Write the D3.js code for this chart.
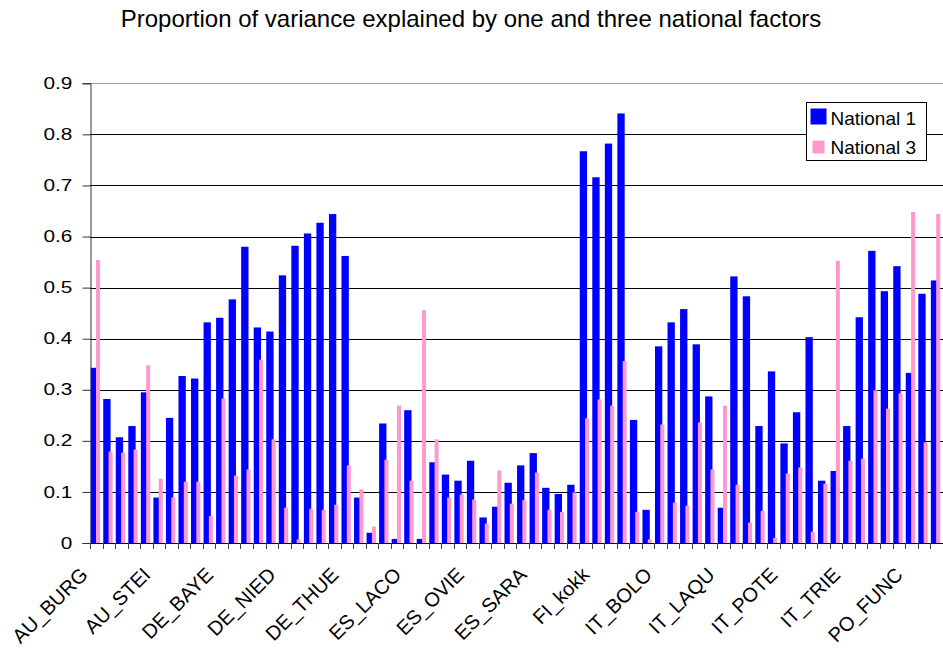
<!DOCTYPE html>
<html>
<head>
<meta charset="utf-8">
<script src="https://cdn.jsdelivr.net/npm/d3@7"></script>
<style>
  body { margin: 0; background: #fff; }
  text { font-family: "Liberation Sans", Arial, sans-serif; fill: #000; }
</style>
</head>
<body>
<svg id="chart" width="943" height="649"></svg>
<script>
const title = "Proportion of variance explained by one and three national factors";
const seriesNames = ["National 1", "National 3"];
// one label every 5th region
const tickLabels = ["AU_BURG", "AU_STEI", "DE_BAYE", "DE_NIED", "DE_THUE", "ES_LACO", "ES_OVIE",
                    "ES_SARA", "FI_kokk", "IT_BOLO", "IT_LAQU", "IT_POTE", "IT_TRIE", "PO_FUNC"];
const national1 = [0.343, 0.282, 0.207, 0.229, 0.295, 0.089, 0.245, 0.327, 0.322, 0.432,
                   0.441, 0.477, 0.580, 0.422, 0.414, 0.524, 0.582, 0.606, 0.627, 0.644,
                   0.562, 0.089, 0.020, 0.234, 0.008, 0.260, 0.008, 0.158, 0.134, 0.122,
                   0.161, 0.050, 0.071, 0.118, 0.152, 0.176, 0.108, 0.096, 0.114, 0.767,
                   0.716, 0.782, 0.841, 0.241, 0.065, 0.385, 0.432, 0.458, 0.389, 0.287,
                   0.069, 0.522, 0.483, 0.229, 0.336, 0.195, 0.256, 0.403, 0.122, 0.141,
                   0.229, 0.442, 0.572, 0.493, 0.542, 0.333, 0.488, 0.514];
const national3 = [0.554, 0.179, 0.177, 0.183, 0.348, 0.126, 0.089, 0.120, 0.120, 0.053,
                   0.283, 0.132, 0.144, 0.359, 0.203, 0.069, 0.007, 0.067, 0.065, 0.075,
                   0.152, 0.105, 0.032, 0.163, 0.269, 0.122, 0.456, 0.203, 0.089, 0.095,
                   0.085, 0.038, 0.142, 0.077, 0.084, 0.138, 0.065, 0.061, 0.099, 0.244,
                   0.281, 0.269, 0.356, 0.061, 0.007, 0.232, 0.079, 0.073, 0.236, 0.144,
                   0.269, 0.114, 0.040, 0.063, 0.010, 0.136, 0.148, 0.022, 0.116, 0.552,
                   0.161, 0.165, 0.299, 0.263, 0.293, 0.648, 0.197, 0.644];
const yTicks = [0, 0.1, 0.2, 0.3, 0.4, 0.5, 0.6, 0.7, 0.8, 0.9];

const svg = d3.select("#chart");
const plotLeft = 90, plotRight = 942.7, plotTop = 83.3, plotBottom = 543;

const x = d3.scaleBand()
    .domain(d3.range(national1.length))
    .range([plotLeft, plotRight])
    .padding(0);
const y = d3.scaleLinear().domain([0, 0.9]).range([plotBottom, plotTop]);
const bw = x.bandwidth();

// title
svg.append("text")
   .attr("x", 471).attr("y", 27)
   .attr("text-anchor", "middle")
   .style("font-size", "24px")
   .text(title);

// gridlines
svg.append("g")
   .selectAll("line")
   .data(yTicks.filter(d => d > 0))
   .join("line")
   .attr("x1", plotLeft).attr("x2", 943)
   .attr("y1", d => Math.round(y(d)) + 0.5)
   .attr("y2", d => Math.round(y(d)) + 0.5)
   .attr("stroke", d => d === 0.9 ? "#a0a0a0" : "#000")
   .attr("stroke-width", 1);

// bars, blue first then pink on top
svg.append("g")
   .selectAll("rect")
   .data(national1)
   .join("rect")
   .attr("x", (d, i) => x(i) + bw * 0.056)
   .attr("width", bw * 0.584)
   .attr("y", d => y(d))
   .attr("height", d => y(0) - y(d))
   .attr("fill", "#0000ff");

svg.append("g")
   .selectAll("rect")
   .data(national3)
   .join("rect")
   .attr("x", (d, i) => x(i) + bw * 0.48)
   .attr("width", bw * 0.32)
   .attr("y", d => y(d))
   .attr("height", d => y(0) - y(d))
   .attr("fill", "#ff99cc");

// y axis
const yAxis = svg.append("g")
   .attr("transform", "translate(" + (plotLeft + 0.5) + ",0)")
   .call(d3.axisLeft(y).tickValues(yTicks).tickSize(8).tickPadding(6)
          .tickFormat(d => d === 0 ? "0" : d3.format(".1f")(d)));
yAxis.select(".domain").attr("stroke", "#333");
yAxis.selectAll(".tick line").attr("stroke", "#333");
yAxis.selectAll("text")
     .style("font-size", "16px")
     .attr("transform", "scale(1.3,1)");

// x axis: ticks at every category boundary
const xTickPos = d3.range(national1.length + 1).map(i => plotLeft + i * bw);
svg.append("line")
   .attr("x1", plotLeft).attr("x2", 943)
   .attr("y1", plotBottom + 0.5).attr("y2", plotBottom + 0.5)
   .attr("stroke", "#000");
svg.append("g")
   .selectAll("line")
   .data(xTickPos)
   .join("line")
   .attr("x1", d => Math.round(d) + 0.5).attr("x2", d => Math.round(d) + 0.5)
   .attr("y1", plotBottom).attr("y2", plotBottom + 6)
   .attr("stroke", "#444");

svg.append("g")
   .selectAll("text")
   .data(tickLabels)
   .join("text")
   .attr("text-anchor", "end")
   .attr("transform", (d, k) => "translate(" + (x(k * 5) - 1) + "," + 576 + ") rotate(-45)")
   .style("font-size", "20px")
   .text(d => d);

// legend
const lg = svg.append("g").attr("transform", "translate(806.5,102.5)");
lg.append("rect")
  .attr("width", 120).attr("height", 58)
  .attr("fill", "#fff").attr("stroke", "#000");
lg.append("rect").attr("x", 4).attr("y", 6).attr("width", 16).attr("height", 16).attr("fill", "#0000ff");
lg.append("rect").attr("x", 6).attr("y", 38).attr("width", 12).attr("height", 13).attr("fill", "#ff99cc");
lg.selectAll("text.lab")
  .data(seriesNames)
  .join("text")
  .attr("class", "lab")
  .attr("x", 24)
  .attr("y", (d, i) => 22.5 + i * 29)
  .style("font-size", "19px")
  .text(d => d);
</script>
</body>
</html>
